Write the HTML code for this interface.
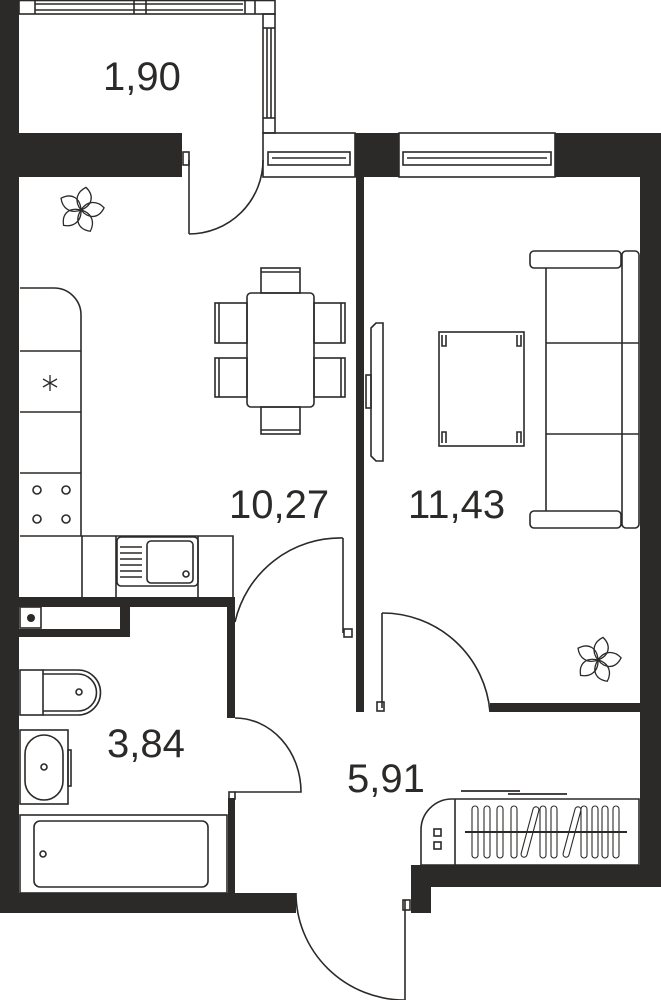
<!DOCTYPE html>
<html><head><meta charset="utf-8"><style>
html,body{margin:0;padding:0;background:#fff;}
svg{display:block;}
text{font-family:"Liberation Sans",sans-serif;fill:#2b2a29;font-size:40px;}
</style></head><body>
<svg width="661" height="1000" viewBox="0 0 661 1000" xmlns="http://www.w3.org/2000/svg">
<defs>
<g id="flower" fill="none" stroke="#2b2a29" stroke-width="1.3">
<path id="pt" d="M0 0 C-10 -6 -10 -16 -3 -23 C8 -18 9 -8 0 0Z"/>
<use href="#pt" transform="rotate(72)"/>
<use href="#pt" transform="rotate(144)"/>
<use href="#pt" transform="rotate(216)"/>
<use href="#pt" transform="rotate(288)"/>
</g>
</defs>
<g fill="#2b2a29">
<rect x="0" y="0" width="19" height="913"/>
<rect x="0" y="133" width="182" height="44"/>
<rect x="355" y="133" width="44" height="44"/>
<rect x="555" y="133" width="106" height="44"/>
<rect x="640" y="177" width="21" height="710"/>
<rect x="356" y="177" width="8" height="535"/>
<rect x="490" y="703" width="151" height="9"/>
<rect x="0" y="893" width="296" height="20"/>
<rect x="411" y="865" width="250" height="22"/>
<rect x="411" y="865" width="20" height="48"/>
<rect x="19" y="597" width="216" height="10"/>
<rect x="227" y="597" width="8" height="121"/>
<rect x="228" y="798" width="7" height="95"/>
<rect x="120" y="607" width="10" height="30"/>
<rect x="19" y="629" width="111" height="8"/>
</g>
<g fill="none" stroke="#2b2a29" stroke-width="1.6">
<rect x="19" y="0.5" width="256" height="13.5"/>
<line x1="35" y1="4" x2="243" y2="4"/><line x1="35" y1="10" x2="243" y2="10"/>
<line x1="35" y1="0" x2="35" y2="14"/><line x1="134" y1="0" x2="134" y2="14"/><line x1="146" y1="0" x2="146" y2="14"/><line x1="245" y1="0" x2="245" y2="14"/><line x1="255" y1="0" x2="255" y2="14"/>
<rect x="263" y="14" width="12" height="119"/>
<line x1="267" y1="28" x2="267" y2="118"/><line x1="271" y1="28" x2="271" y2="118"/>
<line x1="263" y1="28" x2="275" y2="28"/><line x1="263" y1="118" x2="275" y2="118"/>
<rect x="263" y="133" width="92" height="44"/>
<rect x="268" y="152" width="82" height="13"/><line x1="272" y1="158" x2="346" y2="158"/>
<rect x="399" y="133" width="156" height="44"/>
<rect x="403" y="152" width="148" height="13"/><line x1="407" y1="158" x2="547" y2="158"/>
<rect x="183" y="152" width="6" height="13"/>
<line x1="189" y1="160" x2="189" y2="234"/>
<path d="M189 234 A74 74 0 0 0 263 160"/>
<path d="M343 538 L343 633"/>
<rect x="344" y="629" width="8" height="8"/>
<path d="M343 538 A108 108 0 0 0 235 622"/>
<path d="M382 613 L382 708"/>
<rect x="377" y="702" width="7" height="9"/>
<path d="M382 613 A108 108 0 0 1 490 712"/>
<path d="M235 718 A66 74 0 0 1 301 792 L235 792"/>
<rect x="229" y="792" width="6" height="7"/>
<path d="M296 893 A109 107 0 0 0 405 1000 L405 900"/>
<rect x="403" y="900" width="7" height="10"/>
<path d="M20 288 L54 288 A27 27 0 0 1 81 315 L81 536"/>
<line x1="20" y1="351" x2="81" y2="351"/>
<line x1="20" y1="412" x2="81" y2="412"/>
<line x1="20" y1="473" x2="81" y2="473"/>
<path d="M20 536 L233 536 L233 597"/>
<line x1="82" y1="536" x2="82" y2="597"/>
<line x1="116" y1="536" x2="116" y2="597"/>
<line x1="198" y1="536" x2="198" y2="597"/>
<rect x="117" y="537" width="81" height="49" rx="4"/>
<rect x="147" y="541" width="46" height="42" rx="4"/>
<g stroke-width="1.4"><line x1="120" y1="547" x2="142" y2="547"/><line x1="120" y1="553" x2="142" y2="553"/><line x1="120" y1="559" x2="142" y2="559"/><line x1="120" y1="565" x2="142" y2="565"/><line x1="120" y1="571" x2="142" y2="571"/><line x1="120" y1="577" x2="142" y2="577"/></g>
<circle cx="186" cy="574" r="3"/>
<circle cx="37" cy="490" r="4"/><circle cx="66" cy="490" r="4"/><circle cx="37" cy="519" r="4"/><circle cx="66" cy="519" r="4"/>
<g stroke-width="1.3"><line x1="50" y1="375" x2="50" y2="391"/><line x1="43" y1="379" x2="57" y2="387"/><line x1="43" y1="387" x2="57" y2="379"/></g>
<rect x="247" y="293" width="67" height="114" rx="4"/>
<rect x="261" y="268" width="39" height="25"/><line x1="261" y1="272" x2="300" y2="272"/>
<rect x="261" y="407" width="39" height="27"/><line x1="261" y1="430" x2="300" y2="430"/>
<rect x="215" y="303" width="32" height="40"/><line x1="219" y1="303" x2="219" y2="343"/>
<rect x="215" y="358" width="32" height="39"/><line x1="219" y1="358" x2="219" y2="397"/>
<rect x="314" y="303" width="31" height="40"/><line x1="341" y1="303" x2="341" y2="343"/>
<rect x="314" y="358" width="31" height="39"/><line x1="341" y1="358" x2="341" y2="397"/>
<path d="M383 323 L383 461 L376 461 L371 456 L371 328 L376 323 Z"/>
<rect x="366" y="375" width="5" height="33"/>
<rect x="439" y="332" width="85" height="114"/>
<path d="M442 335 L442 346 L446 346 L446 335 M521 335 L521 346 L517 346 L517 335 M442 443 L442 432 L446 432 L446 443 M521 443 L521 432 L517 432 L517 443"/>
<rect x="530" y="251" width="91" height="17" rx="4"/>
<rect x="530" y="511" width="91" height="17" rx="4"/>
<rect x="622" y="251" width="17" height="277" rx="4"/>
<line x1="546" y1="268" x2="546" y2="511"/>
<line x1="546" y1="343" x2="639" y2="343"/>
<line x1="546" y1="434" x2="639" y2="434"/>
<rect x="20" y="607" width="21" height="21"/>
<rect x="20" y="670" width="23" height="45"/>
<path d="M43 670 L78 670 A22.5 22.5 0 0 1 78 715 L43 715"/>
<path d="M43 674 L78 674 A18.5 18.5 0 0 1 78 711 L43 711"/>
<circle cx="79" cy="692" r="3"/>
<rect x="20" y="730" width="48" height="74"/>
<rect x="25" y="735" width="38" height="65" rx="19"/>
<rect x="68" y="750" width="3" height="36"/>
<circle cx="44" cy="767" r="3"/>
<rect x="20" y="815" width="207" height="78"/>
<rect x="34" y="821" width="174" height="66" rx="6"/>
<circle cx="43" cy="854" r="3"/>
<path d="M421 865 L421 830 A31 31 0 0 1 452 799 L639 799 L639 865 Z"/>
<line x1="455" y1="799" x2="455" y2="865"/>
<rect x="434" y="829" width="7" height="7"/><rect x="434" y="842" width="7" height="7"/>
<line x1="461" y1="791" x2="520" y2="791" stroke-width="1.8"/>
<line x1="508" y1="794" x2="567" y2="794" stroke-width="1.8"/>
<g stroke-width="1.1">
<rect x="472" y="806" width="6" height="52" rx="3"/>
<rect x="484" y="806" width="6" height="52" rx="3"/>
<rect x="497" y="806" width="6" height="52" rx="3"/>
<rect x="511" y="806" width="6" height="52" rx="3"/>
<rect x="527" y="806" width="6" height="52" rx="3" transform="rotate(15 530 832)"/>
<rect x="540" y="806" width="6" height="52" rx="3"/>
<rect x="551" y="806" width="6" height="52" rx="3"/>
<rect x="569" y="806" width="6" height="52" rx="3" transform="rotate(15 572 832)"/>
<rect x="581" y="806" width="6" height="52" rx="3"/>
<rect x="592" y="806" width="6" height="52" rx="3"/>
<rect x="602" y="806" width="6" height="52" rx="3"/>
<rect x="613" y="806" width="6" height="52" rx="3"/>
</g>
<line x1="465" y1="832" x2="627" y2="832" stroke-width="2"/>
</g>
<circle cx="31" cy="618" r="4" fill="#2b2a29"/>
<use href="#flower" transform="translate(81 210) rotate(20)"/>
<use href="#flower" transform="translate(598 660) rotate(20)"/>
<text x="103" y="90">1,90</text>
<text x="229" y="518">10,27</text>
<text x="408" y="518">11,43</text>
<text x="107" y="757">3,84</text>
<text x="347" y="792">5,91</text>
</svg>
</body></html>
